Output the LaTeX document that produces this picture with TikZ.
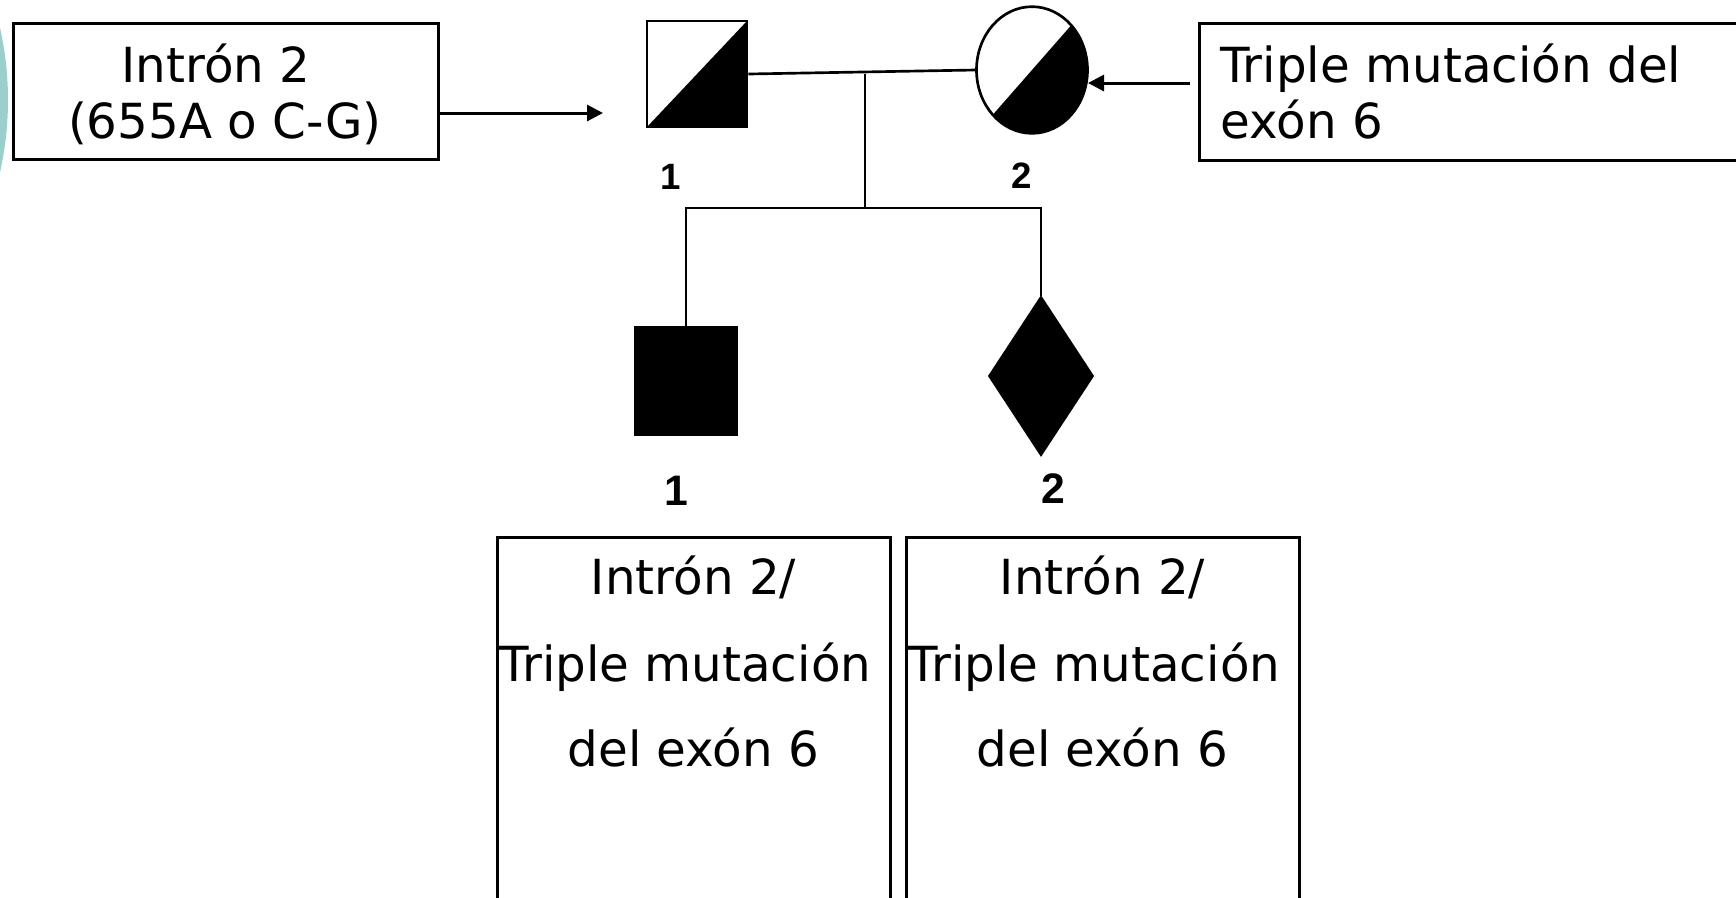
\documentclass[tikz,border=0pt]{standalone}
\usepackage{fontspec}
\setmainfont{DejaVu Sans}
\newfontfamily\numfont{Liberation Sans}
\usetikzlibrary{arrows.meta,shapes.geometric}
\definecolor{slideteal}{RGB}{155,207,206}

\begin{document}
\begin{tikzpicture}[x=0.3pt, y=-0.3pt, line width=0.9pt]
  \tikzset{infobox/.style={draw,inner sep=0pt},
           boxtext/.style={anchor=base,inner sep=0pt,font=\fontsize{14.5}{17}\selectfont},
           num/.style={anchor=base,inner sep=0pt,font=\numfont\bfseries\fontsize{11}{13}\selectfont},
           bignum/.style={num,font=\numfont\bfseries\fontsize{12.8}{15}\selectfont},
           person/.style={draw,inner sep=0pt,line width=0.8pt},
           halfshade/.style={path picture={\fill (path picture bounding box.south west)
               -- (path picture bounding box.north east) -- (path picture bounding box.south east) -- cycle;}},
           arr/.style={-{Triangle[length=4.8pt,width=4.8pt]}}}
  \useasboundingbox (0,0) rectangle (1736,897);
  \clip (0,0) rectangle (1736,897);
  \fill[slideteal] (-320,100) circle (328);

  \node[infobox,minimum width=127.5pt,minimum height=40.8pt] (intron) at (225.5,91) {};
  \node[boxtext] at (216,82) {Intrón 2};
  \node[boxtext] at (225,138) {(655A o C-G)};
  \node[infobox,minimum width=165.3pt,minimum height=41.1pt] (exon) at (1474.5,91.5) {};
  \node[boxtext,anchor=base west] at (1219,82) {Triple mutación del};
  \node[boxtext,anchor=base west] at (1219,138) {exón 6};

  \node[person,rectangle,halfshade,minimum width=30pt,minimum height=31.8pt] (father) at (697,74) {};
  \node[person,ellipse,halfshade,minimum width=33.3pt,minimum height=38pt] (mother) at (1032,70) {};
  \node[person,rectangle,fill,minimum width=30.6pt,minimum height=32.4pt] (son) at (686,381) {};
  \node[person,diamond,fill,minimum width=31.2pt,minimum height=47.4pt] (child) at (1041,376) {};
  \node[num] at (671,189) {1};
  \node[num] at (1022,188) {2};
  \node[bignum] at (676,505) {1};
  \node[bignum] at (1053,503) {2};

  \coordinate (descent) at (865,208);
  \draw[line width=0.8pt] (father.east) -- (mother.west);
  \draw[line width=0.8pt] (descent |- father.east) -- (descent);
  \draw[line width=0.8pt] (son.north) -- (son.north |- descent) -- (child.north |- descent) -- (child.north);

  \coordinate (fathertip) at (603,113);
  \coordinate (mothertip) at (1088,83);
  \draw[arr] (intron.east |- fathertip) -- (fathertip);
  \draw[arr] ([xshift=-2.4pt]exon.west |- mothertip) -- (mothertip);

  \foreach \cx/\side in {693.5/left,1102.5/right} {
    \node[infobox,minimum width=117.9pt,minimum height=111.9pt] (geno\side) at (\cx,723.5) {};
    \node[boxtext] at (\cx,594) {Intrón 2/};
    \node[boxtext] at ({\cx-8},681) {Triple mutación};
    \node[boxtext] at (\cx,766) {del exón 6};
  }
\end{tikzpicture}
\end{document}
